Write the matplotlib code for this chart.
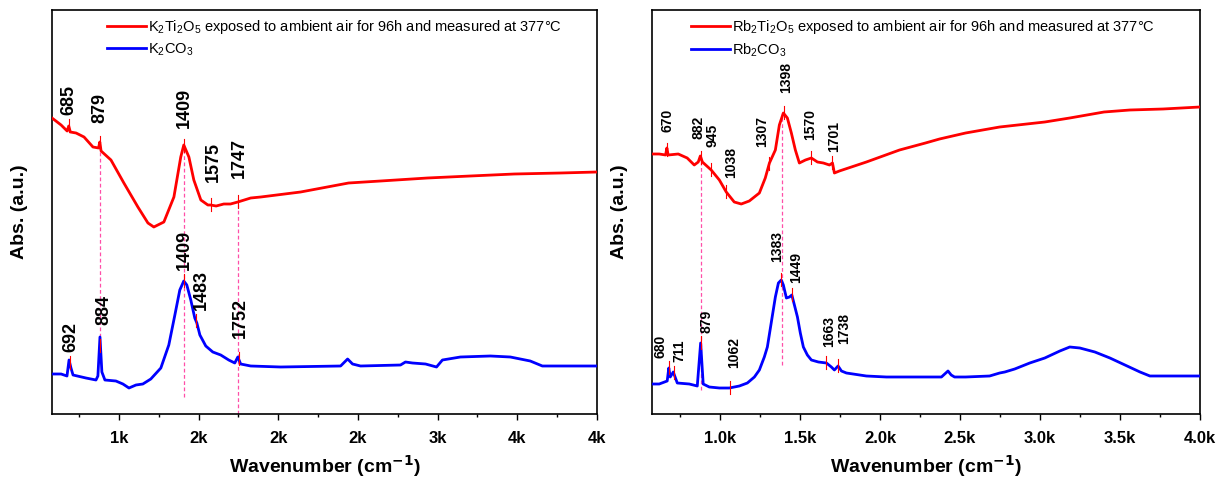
import matplotlib
matplotlib.use('Agg')
import matplotlib.pyplot as plt
from matplotlib.ticker import FuncFormatter, MultipleLocator
import numpy as np

plt.rcParams['font.family'] = ['Liberation Sans', 'DejaVu Sans']
plt.rcParams['mathtext.fontset'] = 'custom'
plt.rcParams['mathtext.rm'] = 'Liberation Sans'

# ---- K panel (left) ----
k_red_x = [580, 637, 675, 685, 695, 731, 781, 837, 872, 880, 888, 950, 1031, 1119, 1182, 1219,
           1282, 1345, 1388, 1407, 1439, 1470, 1514, 1558, 1575, 1610, 1658, 1700, 1746,
           1827, 1890, 2140, 2441, 2642, 2936, 3205, 3481, 3770, 4000]
k_red_y = [296, 289, 283, 288, 282, 281, 277, 267, 266, 272, 263, 254, 231, 207, 191, 187,
           192, 217, 257, 269, 257, 234, 214, 209, 209, 208, 210, 210, 212,
           216, 217, 222, 231, 233, 236, 238, 240, 241, 242]

k_blue_x = [580, 637, 674, 687, 699, 712, 793, 856, 868, 881, 893, 912, 981, 1025, 1063, 1107,
            1150, 1200, 1263, 1313, 1351, 1382, 1407, 1426, 1451, 1476, 1489, 1508, 1545,
            1589, 1639, 1689, 1727, 1746, 1764, 1827, 2015, 2391, 2435, 2466, 2516, 2767,
            2798, 2842, 2924, 2993, 3030, 3143, 3331, 3456, 3581, 3657, 3832, 4000]
k_blue_y = [40, 40, 38, 54, 46, 39, 36, 34, 38, 77, 42, 34, 33, 30, 26, 29,
            30, 35, 46, 69, 99, 124, 133, 129, 114, 96, 91, 79, 68,
            62, 59, 54, 51, 57, 50, 48, 47, 48, 55, 50, 48, 49,
            52, 51, 50, 47, 54, 57, 58, 57, 53, 48, 48, 48]

k_red_peaks = [685, 879, 1409, 1575, 1747]
k_red_lbl_x = [685, 879, 1409, 1590, 1755]
k_red_lbl_y = [299, 291, 286, 232, 236]
k_blue_peaks = [692, 884, 1409, 1483, 1752]
k_blue_lbl_x = [700, 905, 1409, 1520, 1760]
k_blue_lbl_y = [62, 89, 144, 104, 76]
k_dash_x = [879, 1409, 1747]
k_dash_top = [267, 269, 212]
k_dash_bot = [77, 17, 0]

# ---- Rb panel (right) ----
rb_red_x = [575, 620, 660, 668, 676, 739, 795, 839, 864, 877, 890, 945, 996, 1039, 1089, 1133,
            1183, 1246, 1283, 1309, 1346, 1371, 1396, 1421, 1446, 1471, 1496, 1534, 1571,
            1609, 1646, 1684, 1703, 1715, 1746, 1915, 2122, 2284, 2372, 2535, 2748, 3030,
            3186, 3400, 3562, 3769, 4000]
rb_red_y = [260, 260, 259, 266, 259, 260, 256, 249, 252, 258, 252, 244, 234, 222, 212, 210,
            213, 221, 236, 251, 264, 289, 301, 296, 281, 264, 251, 254, 256,
            252, 251, 249, 251, 241, 243, 252, 264, 271, 275, 281, 287, 292,
            296, 302, 304, 305, 307]

rb_blue_x = [575, 620, 670, 680, 689, 708, 733, 808, 858, 879, 895, 933, 996, 1058, 1121, 1171,
             1215, 1246, 1277, 1296, 1321, 1346, 1365, 1383, 1396, 1415, 1434, 1449, 1465,
             1484, 1502, 1521, 1546, 1571, 1615, 1665, 1696, 1715, 1738, 1759, 1790, 1915,
             2040, 2284, 2384, 2425, 2445, 2466, 2535, 2685, 2748, 2780, 2842, 2936, 3030,
             3124, 3186, 3249, 3343, 3437, 3531, 3625, 3687, 3812, 4000]
rb_blue_y = [30, 30, 33, 46, 37, 42, 31, 30, 28, 71, 30, 27, 26, 26, 28, 31,
             37, 44, 57, 67, 92, 117, 131, 134, 129, 116, 117, 119, 109,
             97, 81, 67, 59, 54, 52, 51, 47, 44, 48, 43, 41, 38,
             37, 37, 37, 43, 39, 37, 37, 38, 41, 42, 45, 51, 56,
             63, 67, 66, 62, 56, 49, 42, 38, 38, 38]

rb_red_peaks = [670, 882, 945, 1038, 1307, 1398, 1570, 1701]
rb_red_lbl_x = [670, 864, 955, 1070, 1265, 1415, 1565, 1715]
rb_red_lbl_y = [282, 275, 267, 236, 267, 321, 274, 262]
rb_blue_peaks = [680, 711, 879, 1062, 1383, 1449, 1663, 1738]
rb_blue_lbl_x = [626, 746, 915, 1090, 1358, 1478, 1684, 1778]
rb_blue_lbl_y = [56, 52, 81, 46, 152, 131, 67, 70]
rb_dash_x = [879, 1388]
rb_dash_top = [258, 301]
rb_dash_bot = [24, 49]

W, H = 1228, 482
fig = plt.figure(figsize=(W / 100, H / 100), dpi=100)
ax1 = fig.add_axes([52 / W, 68 / H, 545 / W, 404 / H])
ax2 = fig.add_axes([652 / W, 68 / H, 548 / W, 404 / H])

pink = '#ff4fa8'


def draw_panel(ax, rx, ry, bx, by, rpk, rlx, rly, bpk, blx, bly, dx, dtop, dbot,
               xmin, lbl_size, red_lab, blue_lab, fmt, leg_x):
    for x, t, b in zip(dx, dtop, dbot):
        ax.plot([x, x], [b, t], color=pink, lw=0.9, ls=(0, (3, 2)), zorder=1)
    ax.plot(rx, ry, color='#ff0000', lw=2.0, label=red_lab, zorder=3)
    ax.plot(bx, by, color='#0000ff', lw=2.0, label=blue_lab, zorder=3)
    for pk in rpk:
        v = np.interp(pk, rx, ry)
        ax.plot([pk, pk], [v - 6, v + 7], color='#ff0000', lw=0.8, zorder=4)
    for pk in bpk:
        v = np.interp(pk, bx, by)
        ax.plot([pk, pk], [v - 6, v + 7], color='#ff0000', lw=0.8, zorder=4)
    for pk, lx, ly in zip(rpk, rlx, rly):
        ax.text(lx, ly, str(pk), rotation=90, ha='center', va='bottom',
                fontsize=lbl_size, fontweight='bold')
    for pk, lx, ly in zip(bpk, blx, bly):
        ax.text(lx, ly, str(pk), rotation=90, ha='center', va='bottom',
                fontsize=lbl_size, fontweight='bold')
    ax.set_xlim(xmin, 4000)
    ax.set_ylim(0, 404)
    ax.set_yticks([])
    ax.xaxis.set_major_locator(MultipleLocator(500))
    ax.xaxis.set_minor_locator(MultipleLocator(250))
    ax.xaxis.set_major_formatter(FuncFormatter(fmt))
    ax.tick_params(axis='x', which='major', length=4, width=1, labelsize=12, pad=8)
    ax.tick_params(axis='x', which='minor', length=2.5, width=1)
    for lab in ax.get_xticklabels():
        lab.set_fontweight('bold')
    for s in ax.spines.values():
        s.set_linewidth(1.2)
    ax.set_xlabel('Wavenumber (cm$^{\\mathbf{-1}}$)', fontsize=14, fontweight='bold', labelpad=5)
    ax.set_ylabel('Abs. (a.u.)', fontsize=14, fontweight='bold', labelpad=17)
    ax.legend(loc='upper left', bbox_to_anchor=(leg_x, 0.988), frameon=False,
              fontsize=10.5, handlelength=2.7, handletextpad=0.1, labelspacing=0.35,
              borderaxespad=0, borderpad=0.2)


draw_panel(ax1, k_red_x, k_red_y, k_blue_x, k_blue_y,
           k_red_peaks, k_red_lbl_x, k_red_lbl_y, k_blue_peaks, k_blue_lbl_x, k_blue_lbl_y,
           k_dash_x, k_dash_top, k_dash_bot, 580, 13,
           'K$_2$Ti$_2$O$_5$ exposed to ambient air for 96h and measured at 377°C',
           'K$_2$CO$_3$', lambda v, p: '%.0fk' % (v / 1000), 0.095)
draw_panel(ax2, rb_red_x, rb_red_y, rb_blue_x, rb_blue_y,
           rb_red_peaks, rb_red_lbl_x, rb_red_lbl_y, rb_blue_peaks, rb_blue_lbl_x, rb_blue_lbl_y,
           rb_dash_x, rb_dash_top, rb_dash_bot, 575, 10,
           'Rb$_2$Ti$_2$O$_5$ exposed to ambient air for 96h and measured at 377°C',
           'Rb$_2$CO$_3$', lambda v, p: '%.1fk' % (v / 1000), 0.066)

fig.savefig('out.png', dpi=100)
